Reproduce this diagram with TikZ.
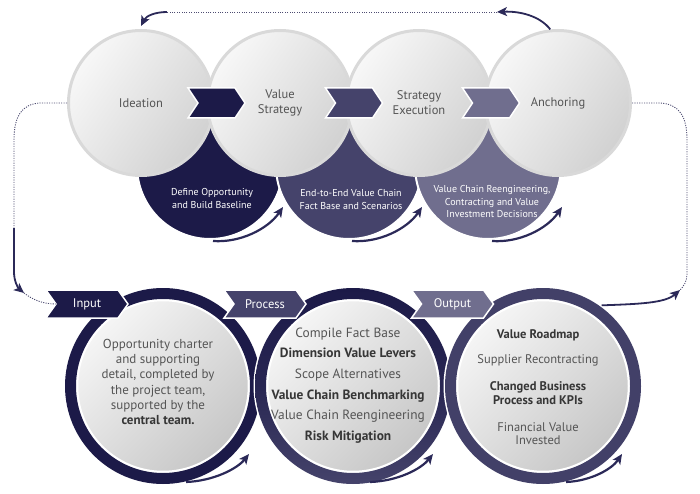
\documentclass[tikz,border=0pt]{standalone}
\usepackage{fontspec}
\setmainfont{PT Sans}
\usetikzlibrary{arrows.meta}
\definecolor{navy}{HTML}{1C1A48}
\definecolor{mid}{HTML}{45436B}
\definecolor{soft}{HTML}{706E8E}
\definecolor{arr}{HTML}{2B2958}
\definecolor{txt}{HTML}{555555}
\definecolor{txtb}{HTML}{363636}
\definecolor{rimc}{HTML}{D9D9D9}
\definecolor{dotc}{HTML}{4E4D72}
\newcommand{\chevpath}[6]{%
  \fill[#6, draw=white, line width=1.5pt] ({#1-#3},{#2-#4}) -- ({#1+#3-#5},{#2-#4}) -- ({#1+#3},#2) -- ({#1+#3-#5},{#2+#4}) -- ({#1-#3},{#2+#4}) -- ({#1-#3+#5},#2) -- cycle;}
\begin{document}
\begin{tikzpicture}[x=1pt,y=-1pt,
  lightc/.style={circle, minimum size=145pt, inner sep=0pt, draw=rimc, line width=3pt,
    top color=white!97!black, bottom color=black!18, shading angle=55,
    text=txt, font=\fontsize{12.5}{15}\selectfont, align=center},
  darkc/.style={circle, minimum size=146pt, inner sep=0pt, draw=white, line width=2pt},
  darktext/.style={text=white, font=\fontsize{10}{12.8}\selectfont, align=center},
  halo/.style={circle, minimum size=199pt, inner sep=0pt, fill=white},
  innerc/.style={circle, minimum size=171pt, inner sep=0pt, draw=white, line width=1.5pt,
    top color=white!96!black, bottom color=black!22, shading angle=45},
  chevtext/.style={text=white, font=\fontsize{12.5}{15}\selectfont},
  smallarr/.style={draw=arr, line width=2.2pt, -{Stealth[length=10pt,width=9pt,inset=2.5pt]}},
  dotline/.style={draw=dotc, line width=0.9pt, dash pattern=on 1.1pt off 1.3pt},
  solidarr/.style={draw=arr, line width=1.8pt, -{Stealth[length=10pt,width=9pt,inset=2.5pt]}},
]
\useasboundingbox (0,0) rectangle (700,494);

% ---------- top row: dark circles ----------
\node[darkc, fill=navy] (d1) at (210,166) {};
\node[darkc, fill=mid]  (d2) at (349,166) {};
\node[darkc, fill=soft] (d3) at (488,166) {};
\node[darktext] (d1t) at (212,198.5) {Define Opportunity\\and Build Baseline};
\node[darktext] (d2t) at (351,199.5) {End-to-End Value Chain\\Fact Base and Scenarios};
\node[darktext] (d3t) at (492,201.5) {Value Chain Reengineering,\\Contracting and Value\\Investment Decisions};

% ---------- top row: light circles ----------
\node[lightc] (ide)  at (141,103) {Ideation};
\node[lightc] (vs)   at (280,103) {Value\\Strategy};
\node[lightc] (se)   at (419,103) {Strategy\\Execution};
\node[lightc] (anch) at (558,103) {Anchoring};

% top chevrons
\chevpath{216.5}{103}{28.5}{15}{10}{navy}
\chevpath{354}{103}{28.5}{15}{10}{mid}
\chevpath{491}{103}{28.5}{15}{10}{soft}

% small arrows under the dark circles
\draw[smallarr] (213,241) .. controls (240,243) and (268,229) .. (283,207);
\draw[smallarr] (352,241) .. controls (379,243) and (407,229) .. (422,207);
\draw[smallarr] (492,241) .. controls (519,243) and (547,229) .. (562,207);

% ---------- bottom row ----------
\node[halo] (inpo) at (163,386) {};
\fill[navy, even odd rule] (163,386) circle[radius=98pt] circle[radius=87pt];
\node[innerc] (inp) at (163,386) {};
\node[text=txt, font=\fontsize{13}{15.3}\selectfont, align=center] (inpt) at (158,382)
  {Opportunity charter\\and supporting\\detail, completed by\\the project team,\\supported by the\\\textcolor{txtb}{\textbf{central team.}}};

\node[halo] (proo) at (353,386) {};
\shade[top color=navy, bottom color=mid, middle color=navy!70!mid, even odd rule] (353,386) circle[radius=98pt] circle[radius=87pt];
\node[innerc] (pro) at (353,386) {};
\node[text=txt, font=\fontsize{13.4}{20.6}\selectfont, align=center] (prot) at (348,385.5)
  {Compile Fact Base\\\textcolor{txtb}{\textbf{Dimension Value Levers}}\\Scope Alternatives\\\textcolor{txtb}{\textbf{Value Chain Benchmarking}}\\Value Chain Reengineering\\\textcolor{txtb}{\textbf{Risk Mitigation}}};

\node[halo] (outo) at (543,386) {};
\fill[mid!92!navy, even odd rule] (543,386) circle[radius=98pt] circle[radius=87pt];
\node[innerc] (outp) at (543,386) {};
\node[text=txt, font=\fontsize{12.5}{13.5}\selectfont, align=center] (outt) at (538,387.5)
  {\textcolor{txtb}{\textbf{Value Roadmap}}\\[11.5pt]Supplier Recontracting\\[13.5pt]\textcolor{txtb}{\textbf{Changed Business}}\\\textcolor{txtb}{\textbf{Process and KPIs}}\\[13.5pt]Financial Value\\Invested};

% bottom chevrons
\chevpath{87}{304}{41}{14}{10}{navy}
\node[chevtext] (inl) at (87,304) {Input};
\chevpath{265}{304}{41}{14}{10}{mid}
\node[chevtext] (prl) at (265,304) {Process};
\chevpath{452.5}{304}{41}{14}{10}{soft}
\node[chevtext] (oul) at (452.5,304) {Output};

% small arrows under the bottom circles
\draw[smallarr] (186,482) .. controls (213,481) and (237,469) .. (249,454);
\draw[smallarr] (370,482) .. controls (398,481) and (421,469) .. (433,454);
\draw[smallarr] (566,482) .. controls (591,481) and (612,469) .. (622,454);

% ---------- connectors ----------
\coordinate (tr) at (497,12);
\coordinate (tl) at (167,12);
\draw[solidarr] (anch.96) .. controls (540,16) and (520,11) .. (tr);
\draw[dotline] (tr) -- (tl);
\draw[solidarr] (tl) .. controls (155,12) and (146,16) .. ([yshift=3pt]ide.north);

\coordinate (lv) at (14,228);
\coordinate (lh) at (24,293);
\coordinate (innotch) at (56,304);
\draw[dotline] (ide.west) -- (40,103) .. controls (22,104) and (14,116) .. (14,140) -- (lv);
\draw[solidarr] (lv) -- (14,272) .. controls (14,281) and (18,288) .. (lh);
\draw[dotline] (lh) .. controls (33,300) and (43,304) .. (innotch);

\coordinate (rh) at (680,290);
\draw[dotline] (anch.east) -- (660,103) .. controls (679,104) and (687,116) .. (687,140) -- (687,274) .. controls (687,281) and (684,286) .. (rh);
\draw[solidarr] (outo.54) .. controls (640,304) and (665,303) .. (rh);
\end{tikzpicture}
\end{document}
